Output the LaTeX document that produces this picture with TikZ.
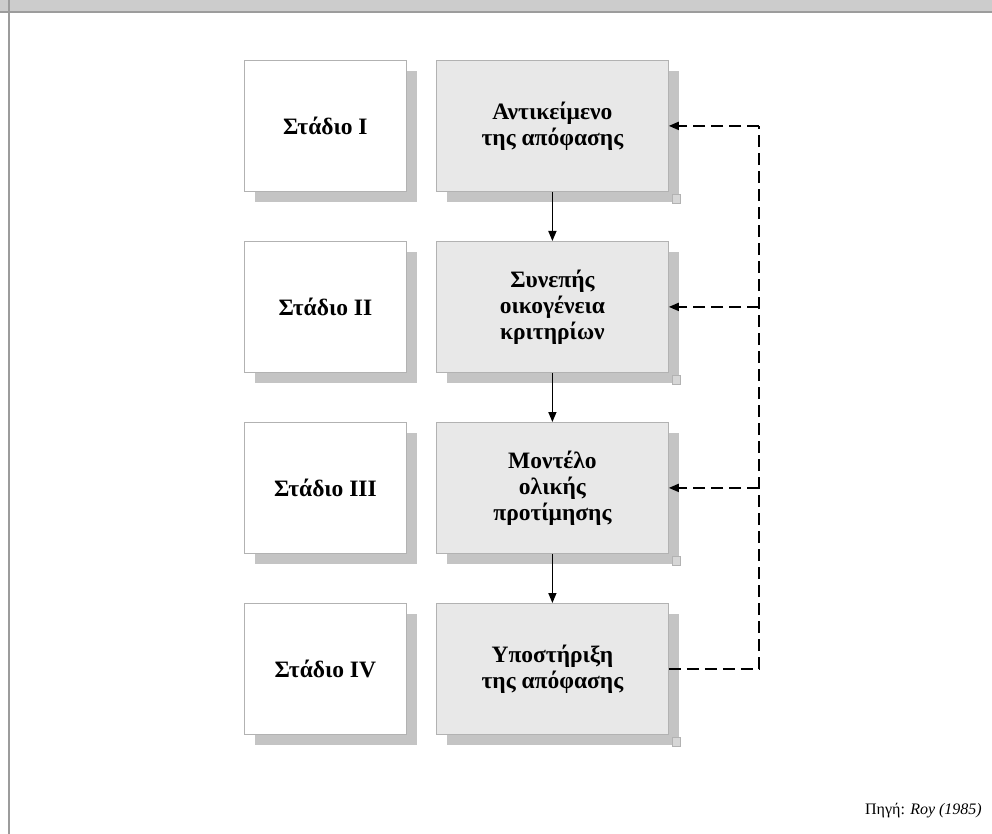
\documentclass[tikz,border=0pt]{standalone}
\usepackage{fontspec}
\setmainfont{Liberation Serif}
\usetikzlibrary{arrows.meta,shadows}

\definecolor{bandgray}{HTML}{CCCCCC}
\definecolor{framegray}{HTML}{9C9C9C}
\definecolor{edgegray}{HTML}{B2B2B2}
\definecolor{shadegray}{HTML}{C4C4C4}
\definecolor{stepfill}{HTML}{E8E8E8}

\tikzset{
  boxshadow/.style={drop shadow={shadow xshift=11pt, shadow yshift=-11pt,
      opacity=1, fill=shadegray}},
  stagebox/.style={draw=edgegray, line width=0.8pt, fill=white, boxshadow,
      minimum width=162pt, minimum height=131pt, inner sep=0pt,
      align=center, font=\bfseries\fontsize{23.5}{26}\selectfont},
  stepbox/.style={stagebox, fill=stepfill, minimum width=232pt},
  flow/.style={line width=1.4pt, -{Triangle[length=10pt,width=8pt]}},
  feedback/.style={line width=1.8pt, dash pattern=on 12pt off 6pt},
  corner/.style={fill=shadegray!70, draw=edgegray, line width=0.5pt}
}

\begin{document}
\begin{tikzpicture}[x=1pt,y=-1pt]
\useasboundingbox (0,0) rectangle (992,834);

% window frame: top band and left rule
\fill[bandgray] (0,0) rectangle (992,11);
\draw[framegray, line width=2pt] (0,11.8) -- (992,11.8);
\draw[framegray, line width=2pt] (8.8,0) -- (8.8,834);

% stage labels
\node[stagebox, anchor=north west] (s1) at (244,60)  {Στάδιο I};
\node[stagebox, anchor=north west] (s2) at (244,241) {Στάδιο II};
\node[stagebox, anchor=north west] (s3) at (244,422) {Στάδιο III};
\node[stagebox, anchor=north west] (s4) at (244,603) {Στάδιο IV};

% process steps
\node[stepbox, anchor=north west] (p1) at (436,60)  {Αντικείμενο\\της απόφασης};
\node[stepbox, anchor=north west] (p2) at (436,241) {Συνεπής\\οικογένεια\\κριτηρίων};
\node[stepbox, anchor=north west] (p3) at (436,422) {Μοντέλο\\ολικής\\προτίμησης};
\node[stepbox, anchor=north west] (p4) at (436,603) {Υποστήριξη\\της απόφασης};

% small corner marks on the step shadows
\foreach \i in {1,2,3,4}
  \draw[corner] ([xshift=3pt,yshift=-2pt]p\i.south east) rectangle ++(8,9);

% forward flow
\draw[flow] (p1.south) -- (p2.north);
\draw[flow] (p2.south) -- (p3.north);
\draw[flow] (p3.south) -- (p4.north);

% feedback loop
\coordinate (bus) at (759,0);
\draw[feedback] (p4.east) -- (p4.east -| bus) -- (p1.east -| bus);
\foreach \i in {1,2,3}
  \draw[feedback, -{Triangle[length=10pt,width=8pt]}] (p\i.east -| bus) -- (p\i.east);

% source note
\node[anchor=base east, inner sep=0pt, font=\fontsize{16}{18}\selectfont] (src)
  at (982,814) {Πηγή: \textit{Roy (1985)}};
\end{tikzpicture}
\end{document}
